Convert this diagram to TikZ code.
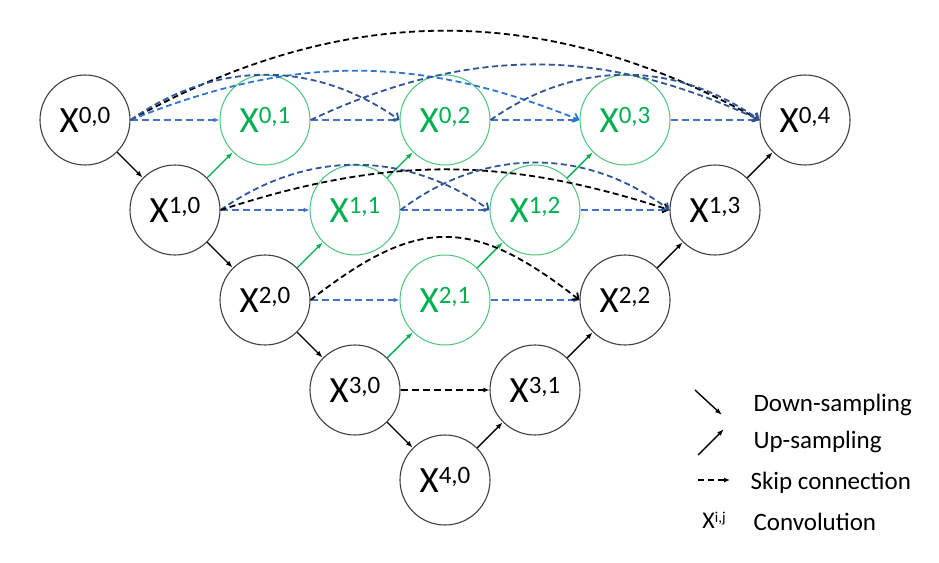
\documentclass[tikz,border=0pt]{standalone}
\usepackage{fontspec}
\setmainfont{Carlito}
\usetikzlibrary{arrows.meta}

\definecolor{skipblue}{HTML}{4472C4}
\definecolor{darkblue}{HTML}{2F5597}
\definecolor{lightblue}{HTML}{2E75D0}
\definecolor{nestgreen}{HTML}{00B050}
\definecolor{ringgreen}{HTML}{4CC47A}

% X with a raised index pair
\newcommand{\xlab}[1]{{\fontsize{37}{37}\selectfont X}\raisebox{9pt}{\fontsize{25}{25}\selectfont #1}}

\begin{document}
\begin{tikzpicture}[x=1pt, y=-1pt,
    conv/.style={circle, draw=black!75, line width=1.1pt, minimum size=90pt, inner sep=0pt},
    nest/.style={conv, draw=ringgreen, line width=1pt, text=nestgreen},
    down/.style={-{Latex[length=7pt,width=5pt]}, line width=1.4pt},
    up/.style={down, draw=nestgreen},
    skip/.style={dash pattern=on 7pt off 4pt, line width=1.7pt, draw=skipblue, -{Latex[length=6pt,width=5pt]}},
    arcskip/.style={dash pattern=on 6pt off 3.5pt, line width=1.8pt, -{Straight Barb[length=5pt,width=9pt]}},
    legend/.style={anchor=west, font=\fontsize{25}{25}\selectfont}]

    \useasboundingbox (0,0) rectangle (939,562);

    % backbone (encoder / decoder)
    \node[conv] (x00) at (85,120) {\xlab{0,0}};
    \node[conv] (x10) at (175,210) {\xlab{1,0}};
    \node[conv] (x20) at (265,300) {\xlab{2,0}};
    \node[conv] (x30) at (355,390) {\xlab{3,0}};
    \node[conv] (x40) at (445,480) {\xlab{4,0}};
    \node[conv] (x31) at (535,390) {\xlab{3,1}};
    \node[conv] (x22) at (625,300) {\xlab{2,2}};
    \node[conv] (x13) at (715,210) {\xlab{1,3}};
    \node[conv] (x04) at (805,120) {\xlab{0,4}};

    % nested nodes
    \node[nest] (x01) at (265,120) {\xlab{0,1}};
    \node[nest] (x02) at (445,120) {\xlab{0,2}};
    \node[nest] (x03) at (625,120) {\xlab{0,3}};
    \node[nest] (x11) at (355,210) {\xlab{1,1}};
    \node[nest] (x12) at (535,210) {\xlab{1,2}};
    \node[nest] (x21) at (445,300) {\xlab{2,1}};

    % down-sampling
    \draw[down] (x00) -- (x10);
    \draw[down] (x10) -- (x20);
    \draw[down] (x20) -- (x30);
    \draw[down] (x30) -- (x40);

    % up-sampling
    \draw[down] (x40) -- (x31);
    \draw[down] (x31) -- (x22);
    \draw[down] (x22) -- (x13);
    \draw[down] (x13) -- (x04);
    \draw[up] (x10) -- (x01);
    \draw[up] (x20) -- (x11);
    \draw[up] (x11) -- (x02);
    \draw[up] (x30) -- (x21);
    \draw[up] (x21) -- (x12);
    \draw[up] (x12) -- (x03);

    % plain skips
    \draw[skip] (x00.east) -- (x01.west);
    \draw[skip] (x01.east) -- (x02.west);
    \draw[skip] (x02.east) -- (x03.west);
    \draw[skip] (x03.east) -- (x04.west);
    \draw[skip] (x10.east) -- (x11.west);
    \draw[skip] (x11.east) -- (x12.west);
    \draw[skip] (x12.east) -- (x13.west);
    \draw[skip] (x20.east) -- (x21.west);
    \draw[skip] (x21.east) -- (x22.west);
    \draw[skip, draw=black] (x30.east) -- (x31.west);

    % dense skips, row 0
    \draw[arcskip, draw=black] (x00.east) to[bend left=29] (x04.west);
    \draw[arcskip, draw=lightblue] (x00.east) to[bend left=22] (x03.west);
    \draw[arcskip, draw=darkblue] (x00.east) to[bend left=35] (x02.west);
    \draw[arcskip, draw=darkblue] (x01.east) to[bend left=25] (x04.west);
    \draw[arcskip, draw=darkblue] (x02.east) to[bend left=35] (x04.west);

    % dense skips, row 1
    \draw[arcskip, draw=darkblue] (x10.east) to[bend left=35] (x12.west);
    \draw[arcskip, draw=black] (x10.east) to[bend left=18] (x13.west);
    \draw[arcskip, draw=darkblue] (x11.east) to[bend left=37] (x13.west);

    % dense skips, row 2
    \draw[arcskip, draw=black] (x20.east) to[bend left=38, looseness=1.3] (x22.west);

    % legend
    \coordinate (dnA) at (695,390);
    \coordinate (dnB) at (722,415);
    \coordinate (upA) at (698,455);
    \coordinate (upB) at (724,429);
    \coordinate (skA) at (698,480);
    \coordinate (skB) at (730,480);
    \draw[down] (dnA) -- (dnB);
    \draw[down] (upA) -- (upB);
    \draw[dash pattern=on 6pt off 4pt, line width=1.3pt, -{Latex[length=6pt,width=5pt]}] (skA) -- (skB);
    \node[legend] (lgdown) at (750,405) {Down-sampling};
    \node[legend] (lgup) at (750,442) {Up-sampling};
    \node[legend] (lgskip) at (747,483) {Skip connection};
    \node (lgx) at (714,520) {{\fontsize{24}{24}\selectfont X}\raisebox{6pt}{\fontsize{15}{15}\selectfont i,j}};
    \node[legend] (lgconv) at (750,522) {Convolution};

\end{tikzpicture}
\end{document}
